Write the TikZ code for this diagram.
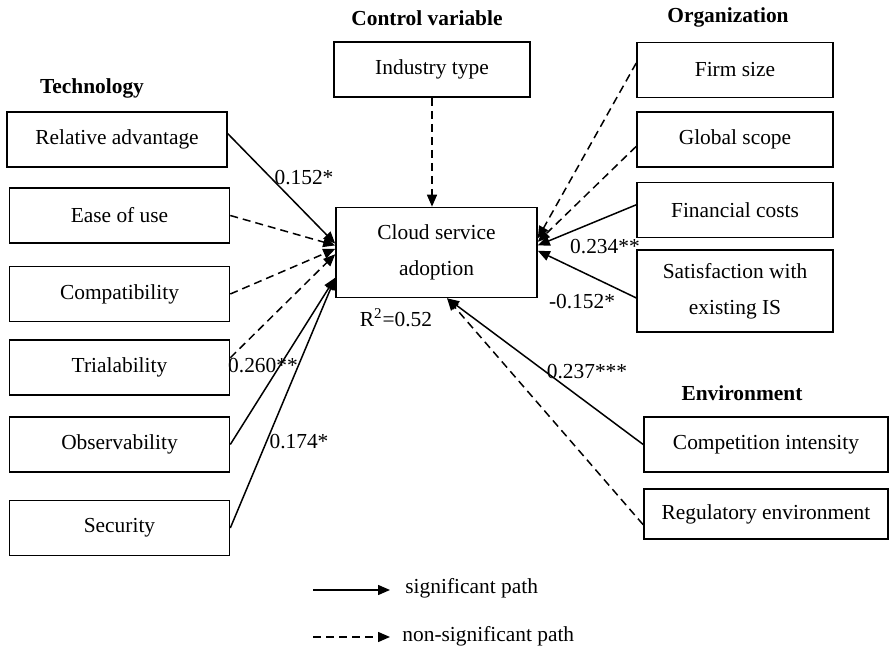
\documentclass[tikz,border=0pt]{standalone}
\usepackage{fontspec}
\setmainfont{Liberation Serif}
\usetikzlibrary{arrows.meta,positioning}

\begin{document}
\begin{tikzpicture}[x=0.5pt, y=-0.5pt,
  font=\fontsize{10.7}{18}\selectfont,
  box/.style={draw, line width=0.8pt, align=center, minimum width=#1, minimum height=27.5pt, inner sep=2pt},
  box/.default=110pt,
  grp/.style={font=\fontsize{10.7}{13}\selectfont\bfseries},
  coef/.style={inner sep=1pt},
  sig/.style={->, line width=0.75pt},
  nsig/.style={->, line width=0.75pt, dash pattern=on 4pt off 2.5pt},
  >={Triangle[length=6pt,width=5pt]}]
\useasboundingbox (0,0) rectangle (890,651);
% technology
\node[grp] (tech) at (92,88) {Technology};
\node[box] (rel) at (117,139.5) {Relative advantage};
\node[box] (ease) at (119.5,215.5) {Ease of use};
\node[box] (compat) at (119.5,294) {Compatibility};
\node[box] (trial) at (119.5,367.5) {Trialability};
\node[box] (obs) at (119.5,444.5) {Observability};
\node[box] (sec) at (119.5,528) {Security};
% control variable and outcome
\node[grp] (ctrl) at (427,18) {Control variable};
\node[box=98pt] (ind) at (432,69.5) {Industry type};
\node[box=100.5pt, minimum height=45pt] (cloud) at (436.5,252.5) {Cloud service\\adoption};
\node (rsq) at (396,318) {R\textsuperscript{2}=0.52};
% organization
\node[grp] (org) at (728,17) {Organization};
\node[box=98pt] (firm) at (735,70) {Firm size};
\node[box=98pt] (glob) at (735,139.5) {Global scope};
\node[box=98pt] (fin) at (735,210) {Financial costs};
\node[box=98pt, minimum height=41pt] (satis) at (735,291) {Satisfaction with\\existing IS};
% environment
\node[grp] (env) at (742,393) {Environment};
\node[box=122pt] (compet) at (766,444.5) {Competition intensity};
\node[box=122pt, minimum height=25pt] (reg) at (766,514) {Regulatory environment};
% paths
\draw[sig] (rel.3) -- (cloud.175);
\draw[nsig] (ease.east) -- (cloud.176);
\draw[nsig] (compat.east) -- (cloud.178);
\draw[nsig] (trial.5) -- (cloud.181);
\draw[sig] (obs.east) -- (cloud.194);
\draw[sig] (sec.east) -- (cloud.194);
\draw[nsig] (ind.south) -- (ind.south |- cloud.north);
\draw[nsig] (firm.176) -- (cloud.8);
\draw[nsig] (glob.184) -- (cloud.6);
\draw[sig] (fin.177) -- (cloud.4);
\draw[sig] (satis.184) -- (cloud.1);
\draw[sig] (compet.west) -- (cloud.283);
\draw[nsig] (reg.185) -- (cloud.283);
% coefficients
\node[coef] (c1) at (304,178) {0.152*};
\node[coef] (c2) at (263,366) {0.260**};
\node[coef] (c3) at (299,442) {0.174*};
\node[coef] (c4) at (605,247) {0.234**};
\node[coef] (c5) at (582,302) {-0.152*};
\node[coef] (c6) at (587,372) {0.237***};
% legend
\coordinate (sigA) at (313,590);
\coordinate (sigB) at (390,590);
\coordinate (nsigA) at (313,637);
\coordinate (nsigB) at (390,637);
\node[right, inner sep=0pt] (sigtxt) at (405,588) {significant path};
\node[right, inner sep=0pt] (nsigtxt) at (402,636) {non-significant path};
\draw[sig] (sigA) -- (sigB);
\draw[nsig] (nsigA) -- (nsigB);
\end{tikzpicture}
\end{document}
